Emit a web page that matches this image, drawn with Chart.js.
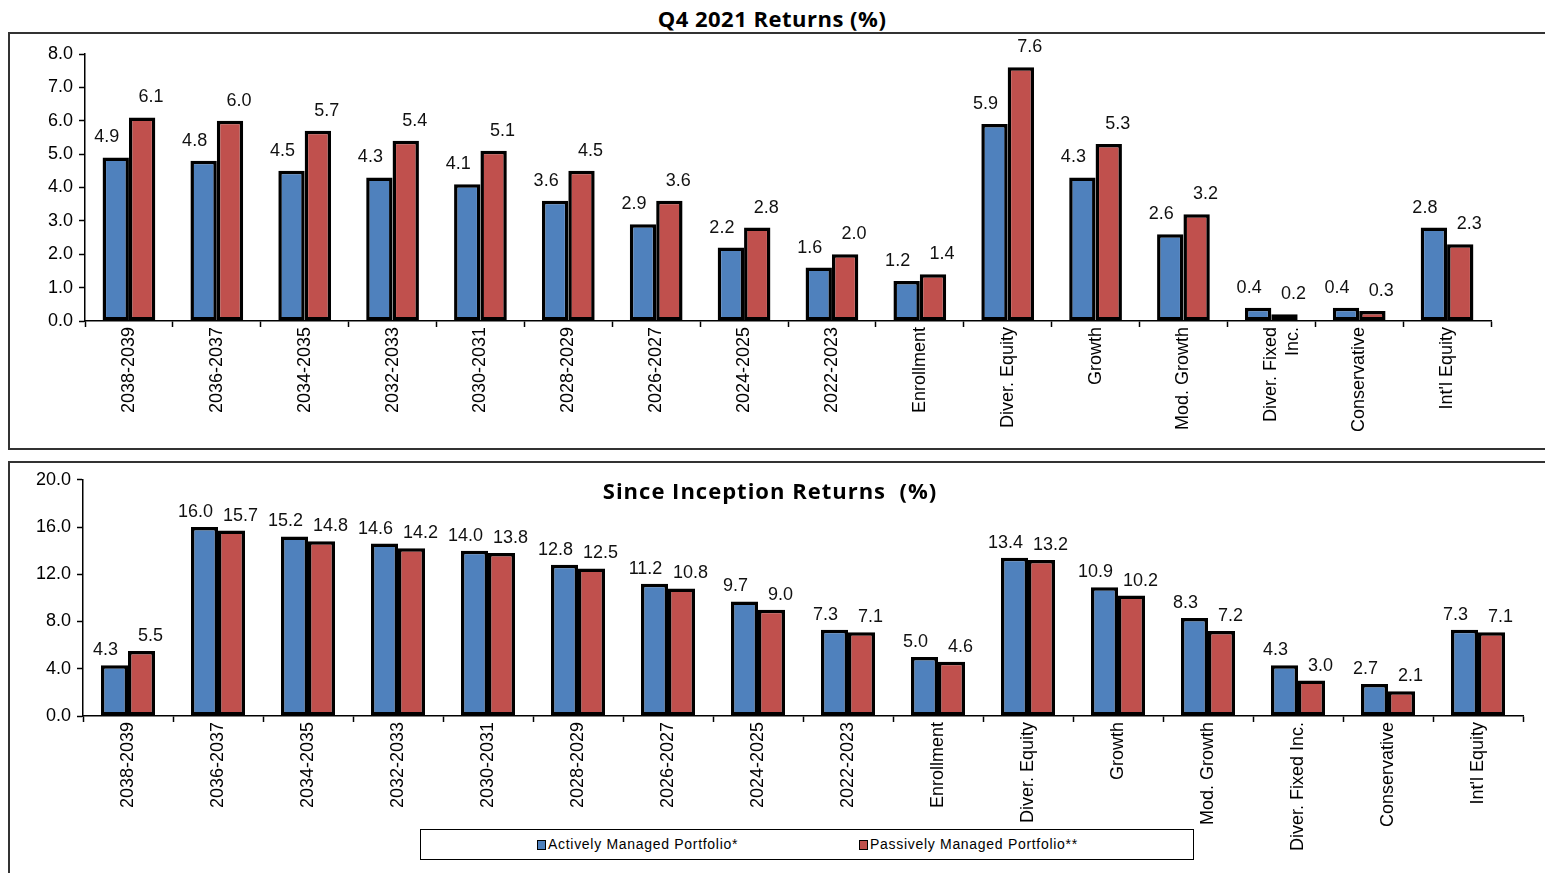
<!DOCTYPE html>
<html>
<head>
<meta charset="utf-8">
<script src="https://cdn.jsdelivr.net/npm/chart.js@4.4.1/dist/chart.umd.min.js"></script>
<style>
  html, body { margin: 0; padding: 0; background: #fff; overflow: hidden; }
  body { width: 1545px; height: 873px; position: relative; font-family: "Liberation Sans", Arial, sans-serif; }
  .title { position: absolute; transform: translateX(-50%); font-family: "Open Sans", "Liberation Sans", sans-serif; font-weight: bold; font-size: 22px; color: #000; white-space: pre; line-height: 26px; }
  .box { position: absolute; border: 2px solid #333; box-sizing: border-box; }
  canvas { position: absolute; }
  .legend { position: absolute; left: 420px; top: 829px; width: 774px; height: 31px; border: 1.5px solid #000; box-sizing: border-box; background: #fff; }
  .legend span { position: absolute; top: 6px; font-size: 14px; letter-spacing: 0.7px; white-space: nowrap; }
  .legend i { position: absolute; top: 10px; width: 7px; height: 8px; border: 1.5px solid #000; }
</style>
</head>
<body>
<div class="title" style="left:772px; top:5px; letter-spacing:0.5px;">Q4 2021 Returns (%)</div>
<div class="box" style="left:8px; top:32px; width:1560px; height:418px;"></div>
<canvas id="q4Chart" width="1536" height="414" style="left:9px; top:34px;"></canvas>

<div class="box" style="left:8px; top:461px; width:1560px; height:420px;"></div>
<canvas id="sinceChart" width="1536" height="409" style="left:9px; top:463px;"></canvas>
<div class="title" style="left:770px; top:477px; letter-spacing:1px;">Since Inception Returns  (%)</div>

<div class="legend">
  <i style="left:116px; background:#4F81BD;"></i><span style="left:127px;">Actively Managed Portfolio*</span>
  <i style="left:438px; background:#C0504D;"></i><span style="left:449px;">Passively Managed Portfolio**</span>
</div>

<script>
/* ---------- DATA ---------- */
const fundLabels = [
    "2038-2039", "2036-2037", "2034-2035", "2032-2033", "2030-2031",
    "2028-2029", "2026-2027", "2024-2025", "2022-2023", "Enrollment",
    "Diver. Equity", "Growth", "Mod. Growth", ["Diver. Fixed", "Inc."],
    "Conservative", "Int'l Equity"
];
const fundLabelsSince = fundLabels.map(l => Array.isArray(l) ? l.join(" ") : l);

const q4Active  = [4.9, 4.8, 4.5, 4.3, 4.1, 3.6, 2.9, 2.2, 1.6, 1.2, 5.9, 4.3, 2.6, 0.4, 0.4, 2.8];
const q4Passive = [6.1, 6.0, 5.7, 5.4, 5.1, 4.5, 3.6, 2.8, 2.0, 1.4, 7.6, 5.3, 3.2, 0.2, 0.3, 2.3];

const sinceActive  = [4.3, 16.0, 15.2, 14.6, 14.0, 12.8, 11.2, 9.7, 7.3, 5.0, 13.4, 10.9, 8.3, 4.3, 2.7, 7.3];
const sincePassive = [5.5, 15.7, 14.8, 14.2, 13.8, 12.5, 10.8, 9.0, 7.1, 4.6, 13.2, 10.2, 7.2, 3.0, 2.1, 7.1];

const seriesNames = ["Actively Managed Portfolio*", "Passively Managed Portfolio**"];
const seriesColors = ["#4F81BD", "#C0504D"];

const FONT = "'Liberation Sans', Arial, sans-serif";

/* ---------- VALUE LABELS ---------- */
const valueLabels = {
    id: "valueLabels",
    afterDatasetsDraw(chart, args, opts) {
        const ctx = chart.ctx;
        ctx.save();
        ctx.font = "18px " + FONT;
        ctx.fillStyle = "#111";
        ctx.textAlign = "center";
        ctx.textBaseline = "middle";
        chart.data.datasets.forEach((ds, i) => {
            const dx = i === 0 ? -9 : 9;
            chart.getDatasetMeta(i).data.forEach((bar, j) => {
                ctx.fillText(ds.data[j].toFixed(1), bar.x + dx, bar.y - opts.lift);
            });
        });
        ctx.restore();
    }
};

/* ---------- CHART BUILDER ---------- */
function buildChart(id, labels, active, passive, yMax, yStep, yWidth, xHeight, padding, lift) {
    return new Chart(document.getElementById(id), {
        type: "bar",
        data: {
            labels: labels,
            datasets: [active, passive].map((d, i) => ({
                label: seriesNames[i],
                data: d,
                backgroundColor: seriesColors[i],
                borderColor: "#000",
                borderWidth: 3.5,
                borderSkipped: false,
                categoryPercentage: 0.6,
                barPercentage: 1.0
            }))
        },
        options: {
            responsive: false,
            animation: false,
            devicePixelRatio: 1,
            layout: { padding: padding },
            plugins: {
                legend: { display: false },
                tooltip: { enabled: false },
                valueLabels: { lift: lift }
            },
            scales: {
                x: {
                    grid: { drawOnChartArea: false, offset: true, tickLength: 6, tickColor: "#000", tickWidth: 1.5 },
                    border: { color: "#000", width: 1.5 },
                    ticks: {
                        autoSkip: false, minRotation: 90, maxRotation: 90, padding: 0,
                        color: "#000", font: { family: FONT, size: 18 }
                    },
                    afterFit: s => { s.height = xHeight; }
                },
                y: {
                    min: 0, max: yMax,
                    grid: { drawOnChartArea: false, tickLength: 6, tickColor: "#000", tickWidth: 1.5 },
                    border: { color: "#000", width: 1.5 },
                    ticks: {
                        stepSize: yStep, padding: 6, color: "#000",
                        font: { family: FONT, size: 18 },
                        callback: v => v.toFixed(1)
                    },
                    afterFit: s => { s.width = yWidth; }
                }
            }
        },
        plugins: [valueLabels]
    });
}

buildChart("q4Chart", fundLabels, q4Active, q4Passive, 8, 1, 76, 127,
    { top: 20, right: 54, left: 0, bottom: 0 }, 20);
buildChart("sinceChart", fundLabelsSince, sinceActive, sincePassive, 20, 4, 74, 156,
    { top: 15, right: 22, left: 0, bottom: 0 }, 15);
</script>
</body>
</html>
